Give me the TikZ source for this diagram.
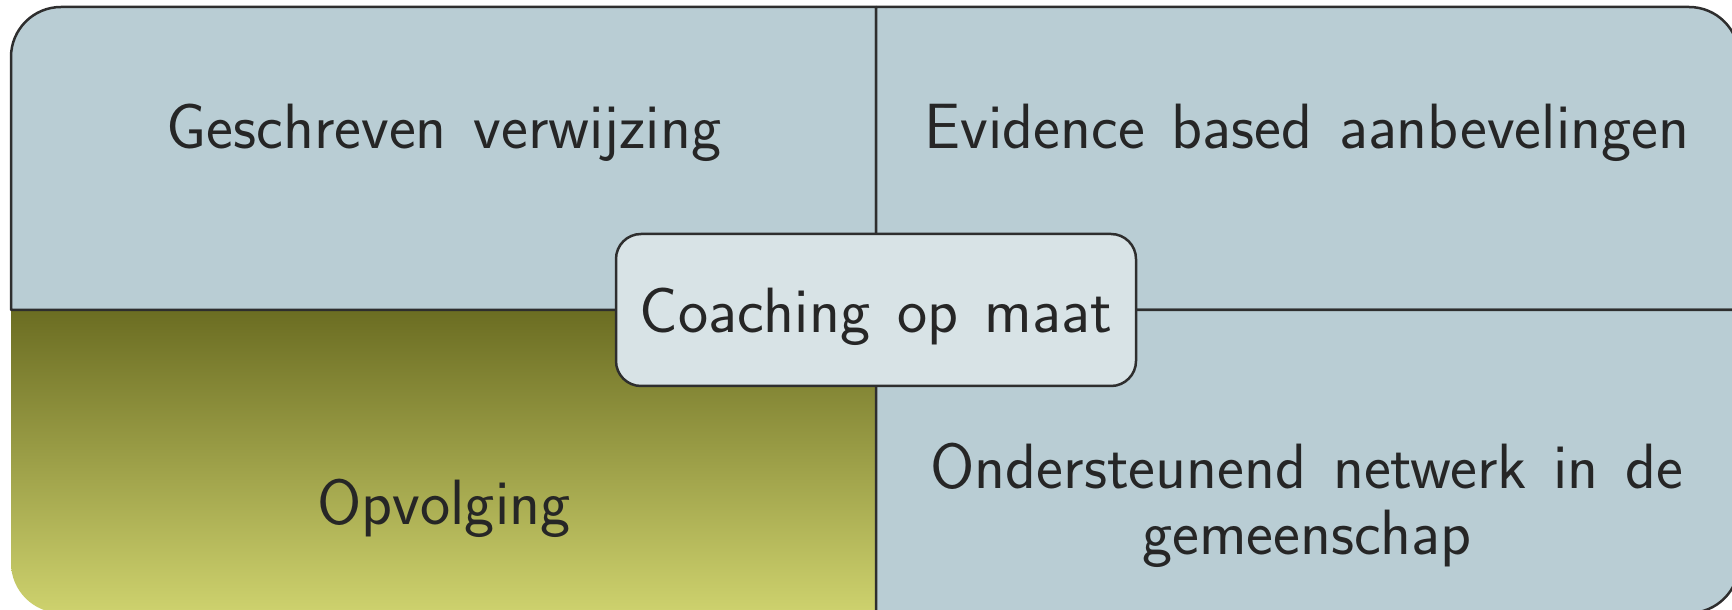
\documentclass[tikz,border=0pt]{standalone}
\usepackage{fontspec}
\definecolor{quad}{HTML}{B9CDD4}
\definecolor{hub}{HTML}{D8E3E6}
\definecolor{rim}{HTML}{2E2E2E}
\definecolor{ink}{HTML}{262626}
\definecolor{olivetop}{HTML}{6B6D22}
\definecolor{olivemid}{HTML}{9EA134}
\definecolor{olivebot}{HTML}{CED26E}
\newcommand{\bigsf}{\sffamily\fontsize{64}{66}\selectfont\spaceskip=0.42em plus 0.1em}
\tikzset{
  part/.style={fill=quad,draw=rim,line width=2.5pt,line join=round},
  lbl/.style={text=ink,font=\bigsf,inner sep=0pt,anchor=base,align=center}
}
\begin{document}
\begin{tikzpicture}[x=1pt,y=1pt]
      \useasboundingbox (0,0) rectangle (1732,610);
      % bottom left, shaded, no rim
      \shade[top color=olivetop,middle color=olivemid,bottom color=olivebot]
        (11,300) -- (876,300) -- (876,-3) -- (61,-3)
        arc[start angle=270,end angle=180,radius=50] -- cycle;
      \draw[part] (11,300) -- (11,553) arc[start angle=180,end angle=90,radius=50]
        -- (876,603) -- (876,300) -- cycle;
      \draw[part] (876,300) -- (876,603) -- (1689,603)
        arc[start angle=90,end angle=0,radius=50] -- (1739,300) -- cycle;
      \draw[part] (876,300) -- (1739,300) -- (1739,47)
        arc[start angle=0,end angle=-90,radius=50] -- (876,-3) -- cycle;
      \draw
        (444,461) node[lbl] (verw){Geschreven verwijzing}
        (1307,461) node[lbl] (evid){Evidence based aanbevelingen}
        (444,85) node[lbl] (opvo){Opvolging}
        (1307,55) node[lbl] (netw){Ondersteunend netwerk in de\\gemeenschap};
      \node[draw=rim,fill=hub,line width=2.5pt,rounded corners=25pt,
        minimum width=520pt,minimum height=152pt,text=ink,text depth=0pt,
        font=\bigsf] (coach) at (876,300) {Coaching op maat};
    \end{tikzpicture}
\end{document}
